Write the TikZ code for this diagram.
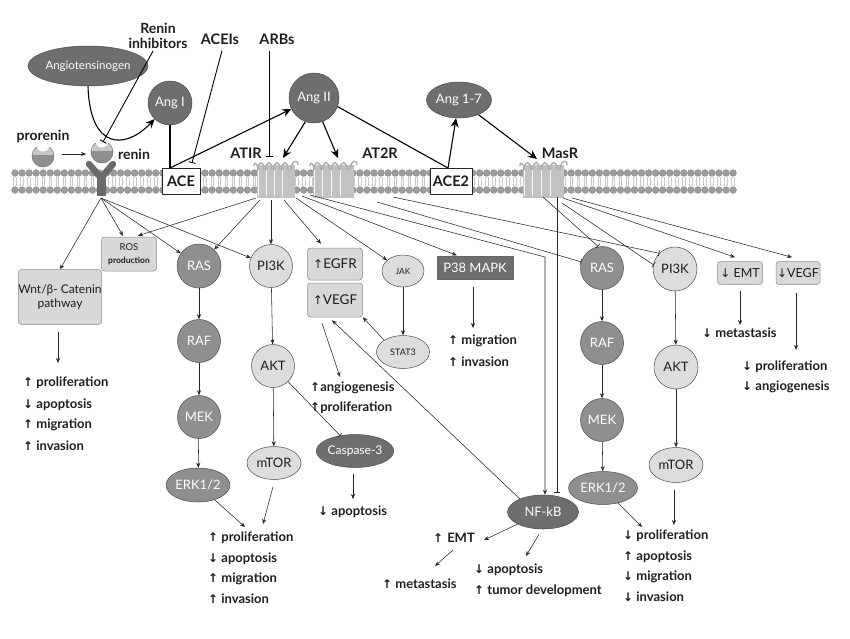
\documentclass[tikz,border=0pt]{standalone}
\usepackage{fontspec}
\setmainfont{Lato}
\newfontfamily\arrfont{DejaVu Sans}
\usetikzlibrary{arrows.meta,shapes.geometric,calc}
\definecolor{dk}{HTML}{6E6E6E}
\definecolor{md}{HTML}{8F8F8F}
\definecolor{lt}{HTML}{DDDDDD}
\definecolor{bx}{HTML}{D8D8D8}
\definecolor{txt}{HTML}{1E1E1E}
\definecolor{lip}{HTML}{9C9C9C}
\definecolor{lipe}{HTML}{808080}
\definecolor{tailc}{HTML}{C8C8C8}
\definecolor{recfill}{HTML}{C2C2C2}
\definecolor{recedge}{HTML}{AAAAAA}
\definecolor{yrec}{HTML}{6A6A6A}
\newcommand\myup{{\arrfont\fontsize{12}{12}\selectfont ↑}}
\newcommand\mydn{{\arrfont\fontsize{12}{12}\selectfont ↓}}
\newcommand\fs[1]{\fontsize{#1}{#1}\selectfont}
\newcommand\gpcr[2]{% x0, width
  \fill[recfill] (#1+2,165) rectangle (#1+#2-2,198);
  \foreach \k in {0,1,2,3}{
    \draw[recedge, line width=1.3pt] ({#1+3+\k*((#2-10)/4)},170) .. controls +(0,-10) and +(0,-10) .. ++({(#2-10)/4-2},0);
    \draw[white!85!recfill, line width=0.8pt] ({#1+3+\k*((#2-10)/4)},170) -- ++(0,26);
  }
  \draw[recedge, line width=1.3pt] (#1+#2-6,170) .. controls +(0,-9) and +(0,-7) .. (#1+#2+1,165);
  \draw[recedge, line width=1.3pt] (#1+3,170) .. controls +(0,-6) and +(0,-6) .. (#1-1,166);
}
\newcommand\mycup[2]{%
  \fill[black!22] (#1,#2) circle (11);
  \begin{scope}\clip (#1-12,#2-1) rectangle (#1+12,#2+12); \fill[md] (#1,#2) circle (11);\end{scope}
  \draw[black!55, line width=0.5pt] (#1,#2) circle (11);
  \fill[white] (#1,#2-11) circle (6.5);
}
\begin{document}
\begin{tikzpicture}[x=1pt,y=-1pt,
  every node/.style={text=txt},
  ell/.style={ellipse, draw=black!70, line width=0.5pt, inner sep=0pt},
  circ/.style={circle, draw=black!70, line width=0.5pt, inner sep=0pt},
  rbox/.style={rectangle, rounded corners=3pt, draw=black!45, fill=bx, line width=0.5pt, inner sep=0pt},
  wbox/.style={rectangle, draw=black!85, fill=white, line width=0.7pt, inner sep=0pt, font=\bfseries\fs{14.5}},
  lbl/.style={font=\bfseries\fs{14.5}, inner sep=0pt},
  oc/.style={anchor=west, font=\bfseries\fs{13}, inner sep=0pt},
  big/.style={line width=1.1pt, -{Stealth[length=9pt,width=8pt]}},
  bigline/.style={line width=1.1pt},
  medbar/.style={line width=0.9pt, -{Bar[width=7pt,line width=0.9pt]}},
  sm/.style={line width=0.55pt, draw=black!85, -{Stealth[length=5pt,width=4pt]}},
  smbar/.style={line width=0.55pt, draw=black!85, -{Bar[width=6pt,line width=0.6pt]}}]
\useasboundingbox (0,0) rectangle (850,638);
\fill[white] (0,0) rectangle (850,638);

% ---------- membrane ----------
\foreach \i in {0,...,102}{
  \pgfmathsetmacro\xx{15+\i*7.04}
  \draw[draw=tailc, line width=0.6pt] (\xx-1.3,177) -- (\xx-1.3,186) (\xx+1.3,177) -- (\xx+1.3,186);
  \fill[lip, draw=lipe, line width=0.3pt] (\xx,173) circle (3.4) (\xx,190) circle (3.4);
}
% receptors
\gpcr{255}{42}
\gpcr{311}{45}
\gpcr{521}{45}
% Y receptor
\draw[yrec, line width=9pt] (101,196) -- (101,176);
\draw[yrec, line width=6.5pt, line cap=round, line join=round] (89,164) -- (101,178) -- (113,164);
\mycup{102}{152}
\mycup{43}{156}

% ---------- top labels ----------
\node[font=\bfseries\fs{14}, align=center, inner sep=0pt] (ri) at (158,36) {Renin\\[1pt]inhibitors};
\node[lbl] (acei) at (220,39) {ACEIs};
\node[lbl] (arb) at (277,39) {ARBs};
\node[font=\bfseries\fs{14}, inner sep=0pt] (pror) at (43,136) {prorenin};
\node[font=\bfseries\fs{14}, inner sep=0pt] (ren) at (134,154) {renin};
\node[lbl] (atirl) at (246,153) {ATIR};
\node[lbl] (at2rl) at (380,153) {AT2R};
\node[lbl] (masl) at (560,153) {MasR};

\node[ell, fill=dk, minimum width=100pt, minimum height=40pt, text=white, font=\fs{11.5}] (agt) at (88,66) {Angiotensinogen};
\node[circ, fill=dk, minimum size=44pt, text=white, font=\fs{13}] (angI) at (170,103) {Ang I};
\node[circ, fill=dk, minimum size=50pt, text=white, font=\fs{13}] (angII) at (314,98) {Ang II};
\node[ell, fill=dk, minimum width=60pt, minimum height=36pt, text=white, font=\fs{13}] (ang17) at (459,100) {Ang 1-7};
\node[wbox, minimum width=38pt, minimum height=26pt] (ace) at (181,181) {ACE};
\node[wbox, minimum width=42pt, minimum height=26pt] (ace2) at (451,181) {ACE2};

% ---------- left pathway nodes ----------
\node[rbox, minimum width=81pt, minimum height=55pt, align=center, font=\fs{12}] (wnt) at (60,297) {Wnt/β- Catenin\\[2pt]pathway};
\node[rbox, minimum width=55pt, minimum height=34pt, align=center] (ros) at (129,254) {{\fs{9.5}ROS}\\[1pt]{\bfseries\fs{8.5}production}};
\node[circ, fill=md, minimum size=44pt, text=white, font=\fs{13}] (rasL) at (199,266) {RAS};
\node[circ, fill=md, minimum size=43pt, text=white, font=\fs{13}] (rafL) at (199,341) {RAF};
\node[circ, fill=md, minimum size=43pt, text=white, font=\fs{13}] (mekL) at (199,417) {MEK};
\node[ell, fill=md, minimum width=63pt, minimum height=34pt, text=white, font=\fs{13}] (erkL) at (198,485) {ERK1/2};
\node[circ, fill=lt, minimum size=43pt, font=\fs{13}] (piL) at (271,266) {PI3K};
\node[circ, fill=lt, minimum size=43pt, font=\fs{13}] (aktL) at (273,366) {AKT};
\node[ell, fill=lt, minimum width=54pt, minimum height=33pt, font=\fs{13}] (mtorL) at (274,463) {mTOR};
\node[rbox, minimum width=55pt, minimum height=32pt, font=\fs{13.5}] (egfr) at (335,264) {\myup EGFR};
\node[rbox, minimum width=55pt, minimum height=34pt, font=\fs{13.5}] (vegf) at (335,300) {\myup VEGF};
\node[ell, fill=lt, minimum width=42pt, minimum height=32pt, font=\fs{8.5}] (jak) at (403,271) {JAK};
\node[ell, fill=lt, minimum width=53pt, minimum height=33pt, font=\fs{9}] (stat3) at (403,352) {STAT3};
\node[rectangle, fill=dk, draw=black!60, line width=0.4pt, minimum width=76pt, minimum height=23pt, inner sep=0pt, text=white, font=\fs{13}] (p38) at (475,268) {P38 MAPK};
\node[ell, fill=dk, minimum width=71pt, minimum height=33pt, text=white, font=\fs{12}] (casp) at (355,451) {Caspase-3};
\node[ell, fill=dk, minimum width=71pt, minimum height=34pt, text=white, font=\fs{13}] (nfkb) at (543,512) {NF-kB};

% ---------- right pathway nodes ----------
\node[circ, fill=md, minimum size=43pt, text=white, font=\fs{13}] (rasR) at (602,268) {RAS};
\node[circ, fill=md, minimum size=43pt, text=white, font=\fs{13}] (rafR) at (602,343) {RAF};
\node[circ, fill=md, minimum size=43pt, text=white, font=\fs{13}] (mekR) at (602,420) {MEK};
\node[ell, fill=md, minimum width=69pt, minimum height=33pt, text=white, font=\fs{13}] (erkR) at (603,488) {ERK1/2};
\node[circ, fill=lt, minimum size=44pt, font=\fs{13}] (piR) at (675,269) {PI3K};
\node[circ, fill=lt, minimum size=44pt, font=\fs{13}] (aktR) at (676,367) {AKT};
\node[ell, fill=lt, minimum width=54pt, minimum height=35pt, font=\fs{13}] (mtorR) at (676,465) {mTOR};
\node[rbox, minimum width=45pt, minimum height=23pt, font=\fs{12.5}] (emt) at (740,273) {\mydn\ EMT};
\node[rbox, minimum width=44pt, minimum height=23pt, font=\fs{12.5}] (vegfR) at (798,273) {\mydn VEGF};

% ---------- outcome texts ----------
\node[oc] (o1) at (23,383) {\myup\ proliferation};
\node[oc] (o2) at (23,405) {\mydn\ apoptosis};
\node[oc] (o3) at (23,425) {\myup\ migration};
\node[oc] (o4) at (23,446) {\myup\ invasion};
\node[oc] (m1) at (208,538) {\myup\ proliferation};
\node[oc] (m2) at (208,559) {\mydn\ apoptosis};
\node[oc] (m3) at (208,579) {\myup\ migration};
\node[oc] (m4) at (208,599) {\myup\ invasion};
\node[oc] (ca) at (318,512) {\mydn\ apoptosis};
\node[oc] (an1) at (310,388) {\myup angiogenesis};
\node[oc] (an2) at (310,408) {\myup proliferation};
\node[oc] (pm1) at (448,341) {\myup\ migration};
\node[oc] (pm2) at (448,362) {\myup\ invasion};
\node[oc] (emtu) at (433,538) {\myup\hspace{4pt}EMT};
\node[oc] (meta) at (382,584) {\myup\ metastasis};
\node[oc] (na1) at (474,570) {\mydn\ apoptosis};
\node[oc] (na2) at (474,591) {\myup\ tumor development};
\node[oc] (r1) at (623,536) {\mydn\ proliferation};
\node[oc] (r2) at (623,557) {\myup\ apoptosis};
\node[oc] (r3) at (623,577) {\mydn\ migration};
\node[oc] (r4) at (623,597) {\mydn\ invasion};
\node[oc] (rmeta) at (702,333) {\mydn\ metastasis};
\node[oc] (rp1) at (742,367) {\mydn\ proliferation};
\node[oc] (rp2) at (742,387) {\mydn\ angiogenesis};

% ---------- coordinates ----------
\coordinate (rinT) at (103,142);
\coordinate (aceT) at (192,163);
\coordinate (arbT) at (269,157);
\coordinate (aceTop) at (170,168);
\coordinate (atArr) at (283,158);
\coordinate (at2Arr) at (338,158);
\coordinate (ace2T) at (448,168);
\coordinate (masArr) at (537,159);
\coordinate (yb) at (101,198);
\coordinate (atA) at (256,198);
\coordinate (atB) at (260,200);
\coordinate (atC) at (271,200);
\coordinate (atD) at (284,200);
\coordinate (atE) at (296,198);
\coordinate (atF) at (302,196);
\coordinate (atG) at (310,195);
\coordinate (nfc) at (545,257);
\coordinate (a2a) at (377,202);
\coordinate (a2b) at (393,197);
\coordinate (msA) at (543,197);
\coordinate (msB) at (562,203);
\coordinate (msC) at (563,198);
\coordinate (msD) at (572,198);
\coordinate (msV) at (557,197);
\coordinate (prA) at (62,154);
\coordinate (prB) at (86,154);
\coordinate (wntE) at (58,363);
\coordinate (angE) at (340,377);
\coordinate (p38E) at (473,328);
\coordinate (caspE) at (353,499);
\coordinate (erkLE) at (245,527);
\coordinate (mtorLE) at (263,524);
\coordinate (nfE1) at (484,540);
\coordinate (nfE2) at (526,556);
\coordinate (emtS) at (453,550);
\coordinate (emtE) at (435,566);
\coordinate (erkRE) at (642,527);
\coordinate (mtorRE) at (674,525);
\coordinate (emtRE) at (740,325);
\coordinate (vegfRE) at (796,350);

% ---------- top connectors ----------
\draw[big] (agt.south) .. controls (90,150) and (125,150) .. (angI);
\draw[medbar] ($(ri.south)+(-5,2)$) -- (rinT);
\draw[medbar] ($(acei.south)+(2,6)$) -- (aceT);
\draw[medbar] (arbT |- arb.south) ++(0,6) -- (arbT);
\draw[bigline] (angI.south) -- (aceTop);
\draw[big] (aceTop) -- (angII);
\draw[big] (angII.250) -- (atArr);
\draw[big] (angII.290) -- (at2Arr);
\draw[bigline] (angII.340) -- (ace2T);
\draw[big] (ace2T) -- (ang17);
\draw[big] (ang17) -- (masArr);
\draw[sm] (prA) -- (prB);

% ---------- fan-out from membrane ----------
\draw[sm] (yb) -- (wnt.north);
\draw[sm] (yb) -- ($(ros.north)+(-6,-1)$);
\draw[sm] (atA) -- ($(ros.north)+(9,-1)$);
\draw[sm] (yb) -- (rasL);
\draw[sm] (atB) -- (rasL);
\draw[sm] (yb) -- (piL);
\draw[sm] (atC) -- (piL);
\draw[sm] (atD) -- ($(egfr.north)+(-14,-4)$);
\draw[sm] (atE) -- (jak);
\draw[sm] (atF) -- ($(p38.north west)+(20,-1)$);
\draw[sm] (atG) -- (nfc) -- (nfc |- nfkb.north);
\draw[smbar] (msV) -- ($(msV |- nfkb.north)+(0,-2)$);
\draw[smbar] (msA) -- ($(rasR.north)+(-4,0)$);
\draw[smbar] (a2a) -- (rasR);
\draw[smbar] (a2b) -- (piR.north west);
\draw[smbar] (msB) -- ($(piR.west)+(1,-4)$);
\draw[sm] (msC) -- ($(emt.north)+(-5,-4)$);
\draw[sm] (msD) -- ($(vegfR.north)+(-6,-4)$);

% ---------- cascades ----------
\draw[sm] ($(wnt.south)+(-2,7)$) -- (wntE);
\draw[sm] (rasL) -- (rafL);
\draw[sm] (rafL) -- (mekL);
\draw[sm] (mekL) -- (erkL);
\draw[sm] (piL) -- (aktL);
\draw[sm] (aktL) -- (mtorL);
\draw[smbar] (aktL) -- (casp);
\draw[sm] ($(casp.south)+(-2,6)$) -- (caspE);
\draw[sm] (erkL) -- (erkLE);
\draw[sm] ($(mtorL.south)+(-1,7)$) -- (mtorLE);
\draw[sm] (jak) -- (stat3);
\draw[sm] (stat3.north west) -- (vegf.south east);
\draw[sm] ($(nfkb.north west)+(2,-1)$) -- ($(vegf.south)+(-3,3)$);
\draw[sm] ($(vegf.south)+(-13,6)$) -- (angE);
\draw[sm] ($(p38.south)+(-2,7)$) -- (p38E);
\draw[sm] (nfkb) -- (nfE1);
\draw[sm] ($(nfkb.south)+(-4,5)$) -- (nfE2);
\draw[sm] (emtS) -- (emtE);
\draw[sm] (rasR) -- (rafR);
\draw[sm] (rafR) -- (mekR);
\draw[sm] (mekR) -- (erkR);
\draw[sm] (piR) -- (aktR);
\draw[sm] (aktR) -- (mtorR);
\draw[sm] (erkR) -- (erkRE);
\draw[sm] ($(mtorR.south)+(-2,7)$) -- (mtorRE);
\draw[sm] ($(emt.south)+(0,6)$) -- (emtRE);
\draw[sm] ($(vegfR.south)+(-2,8)$) -- (vegfRE);
\end{tikzpicture}
\end{document}
